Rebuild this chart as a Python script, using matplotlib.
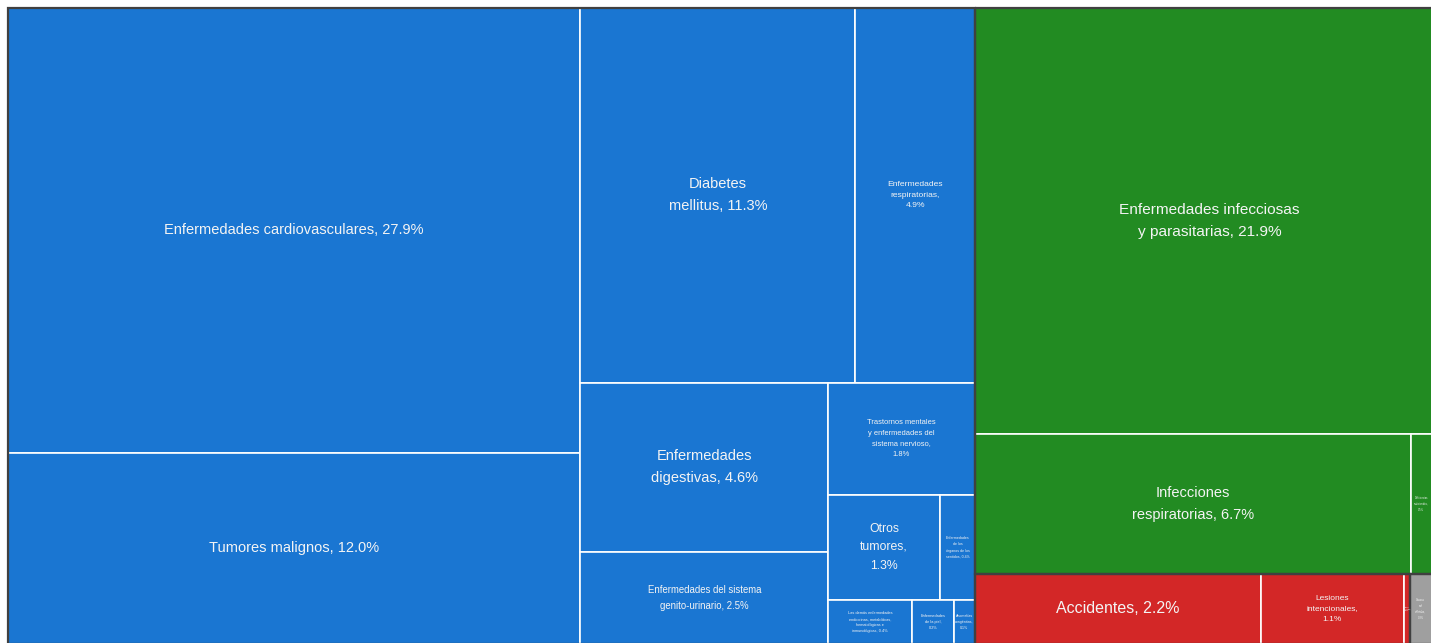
import matplotlib
matplotlib.use('Agg')
import matplotlib.pyplot as plt
from matplotlib.patches import Rectangle

plt.rcParams['font.family'] = ['Liberation Sans', 'DejaVu Sans']

# Causas de muerte (porcentaje del total)
labels = [
    "Enfermedades cardiovasculares, 27.9%",
    "Tumores malignos, 12.0%",
    "Diabetes\nmellitus, 11.3%",
    "Enfermedades\nrespiratorias,\n4.9%",
    "Enfermedades\ndigestivas, 4.6%",
    "Enfermedades del sistema\ngenito-urinario, 2.5%",
    "Trastornos mentales\ny enfermedades del\nsistema nervioso,\n1.8%",
    "Otros\ntumores,\n1.3%",
    "Enfermedades\nde los\nórganos de los\nsentidos, 0.4%",
    "Las demás enfermedades\nendocrinas, metabólicas,\nhematológicas e\ninmunológicas, 0.4%",
    "Enfermedades\nde la piel,\n0.2%",
    "Anomalías\ncongénitas,\n0.1%",
    "Enfermedades infecciosas\ny parasitarias, 21.9%",
    "Infecciones\nrespiratorias, 6.7%",
    "Deficiencias\nnutricionales,\n0.5%",
    "Accidentes, 2.2%",
    "Lesiones\nintencionales,\n1.1%",
    "Otras\nlesiones,\n0.0%",
    "Causas\nmal\ndefinidas,\n0.3%",
]
values = [27.9, 12.0, 11.3, 4.9, 4.6, 2.5, 1.8, 1.3, 0.4, 0.4, 0.2, 0.1,
          21.9, 6.7, 0.5, 2.2, 1.1, 0.05, 0.26]
groups = ["nt"] * 12 + ["inf"] * 3 + ["les"] * 3 + ["otr"]

# styles
group_colors = {"nt": "#1a76d2", "inf": "#228b22", "les": "#d32727", "otr": "#9f9f9f"}
label_sizes = [10.5, 10.5, 10.5, 6.1, 10.5, 6.9, 5.4, 8.8, 2.6, 2.8, 2.8, 2.6,
               11.1, 10.5, 1.8, 11.5, 6.0, 1.6, 1.9]

# slice-and-dice structure: 'h' splits side by side, 'v' stacks top to bottom
tree = ('h', [
    ('h', [
        ('v', [0, 1]),
        ('v', [
            ('h', [2, 3]),
            ('h', [
                ('v', [4, 5]),
                ('v', [6, ('h', [7, 8]), ('h', [9, 10, 11])]),
            ]),
        ]),
    ]),
    ('v', [
        ('v', [12, ('h', [13, 14])]),
        ('h', [('h', [15, 16, 17]), 18]),
    ]),
])

# the screenshot cuts off the right edge of the treemap
VISIBLE = 1423 / 1436


def node_value(node):
    if isinstance(node, int):
        return values[node]
    return sum(node_value(k) for k in node[1])


def layout(node, x0, y0, x1, y1, out):
    if isinstance(node, int):
        out[node] = (x0, y0, x1, y1)
        return
    orient, kids = node
    total = node_value(node)
    pos = x0 if orient == 'h' else y0
    for k in kids:
        frac = node_value(k) / total
        if orient == 'h':
            w = (x1 - x0) * frac
            layout(k, pos, y0, pos + w, y1, out)
        else:
            w = (y1 - y0) * frac
            layout(k, x0, pos, x1, pos + w, out)
        pos += w


def plot_data():
    fig = plt.figure(figsize=(14.31, 6.43), dpi=100)
    ax = fig.add_axes([8 / 1431, -1 / 643, 1423 / 1431, 636 / 643])
    ax.set_xlim(0, VISIBLE)
    ax.set_ylim(1, 0)
    ax.axis('off')

    rects = {}
    layout(tree, 0, 0, 1, 1, rects)

    for i, (x0, y0, x1, y1) in rects.items():
        ax.add_patch(Rectangle((x0, y0), x1 - x0, y1 - y0,
                               facecolor=group_colors[groups[i]],
                               edgecolor='white', linewidth=1.2, zorder=1))
        tx = (x0 + x1) / 2
        # partly hidden cells: centre the label on what is still visible
        if x1 > VISIBLE and (VISIBLE - x0) < 0.8 * (x1 - x0):
            tx = (x0 + VISIBLE) / 2
        ax.text(tx, (y0 + y1) / 2, labels[i], ha='center', va='center',
                color='#f4f4f4', fontsize=label_sizes[i], linespacing=1.72,
                zorder=4, clip_on=True)

    # darker outline around each group
    for g in group_colors:
        boxes = [rects[i] for i in rects if groups[i] == g]
        gx0 = min(b[0] for b in boxes)
        gy0 = min(b[1] for b in boxes)
        gx1 = max(b[2] for b in boxes)
        gy1 = max(b[3] for b in boxes)
        ax.add_patch(Rectangle((gx0, gy0), gx1 - gx0, gy1 - gy0, fill=False,
                               edgecolor='#404040', linewidth=1.6, zorder=3,
                               clip_on=False))

    fig.savefig('out.png', dpi=100, facecolor='white')


def main():
    plot_data()


if __name__ == '__main__':
    main()
